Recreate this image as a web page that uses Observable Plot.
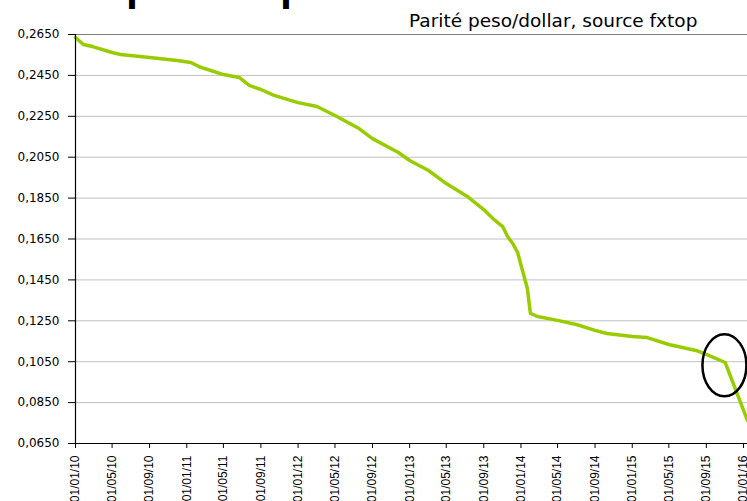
<!DOCTYPE html>
<html>
<head>
<meta charset="utf-8">
<script src="https://cdn.jsdelivr.net/npm/d3@7"></script>
<script src="https://cdn.jsdelivr.net/npm/@observablehq/plot@0.6"></script>
<style>
  html, body { margin: 0; padding: 0; background: #fff; }
  #chart { position: relative; width: 747px; height: 501px; overflow: hidden; }
</style>
</head>
<body>
<div id="chart"></div>
<script>
// Parity peso/dollar readings
const dates = ["2010-01-01","2010-01-27","2010-02-26","2010-05-01","2010-05-29","2010-09-01","2010-12-01","2011-01-14","2011-02-16","2011-03-21","2011-05-01","2011-06-22","2011-07-25","2011-09-01","2011-10-14","2012-01-01","2012-03-03","2012-05-01","2012-07-19","2012-09-01","2012-11-25","2013-01-01","2013-03-04","2013-05-01","2013-07-09","2013-09-01","2013-10-01","2013-11-02","2013-11-18","2013-12-05","2013-12-21","2014-01-06","2014-01-22","2014-02-01","2014-02-24","2014-05-01","2014-07-02","2014-09-01","2014-10-10","2015-01-01","2015-02-19","2015-05-01","2015-07-29","2015-09-01","2015-11-02","2016-01-14"];
const values = [0.2635,0.2601,0.2591,0.2562,0.2552,0.2538,0.2523,0.2513,0.2489,0.2474,0.2454,0.2440,0.2401,0.2381,0.2352,0.2317,0.2298,0.2254,0.2190,0.2141,0.2073,0.2034,0.1985,0.1921,0.1858,0.1794,0.1750,0.1711,0.1662,0.1628,0.1584,0.1496,0.1408,0.1286,0.1271,0.1252,0.1232,0.1203,0.1188,0.1173,0.1168,0.1134,0.1105,0.1086,0.1046,0.0762];

// Axis ticks
const xTickDates = ["2010-01-01","2010-05-01","2010-09-01","2011-01-01","2011-05-01","2011-09-01","2012-01-01","2012-05-01","2012-09-01","2013-01-01","2013-05-01","2013-09-01","2014-01-01","2014-05-01","2014-09-01","2015-01-01","2015-05-01","2015-09-01","2016-01-01"];
const yTicks = [0.0650,0.0850,0.1050,0.1250,0.1450,0.1650,0.1850,0.2050,0.2250,0.2450,0.2650];
const xDomain = ["2010-01-01","2016-01-14"];
const titleText = "Parité peso/dollar, source fxtop";
// circled point (annotation)
const circled = {date: "2015-11-01", value: 0.1030};

const data = dates.map((d, i) => ({date: new Date(d), value: values[i]}));

const plot = Plot.plot({
  width: 747,
  height: 501,
  marginLeft: 75,
  marginRight: 0,
  marginTop: 34,
  marginBottom: 58,
  style: {fontFamily: "DejaVu Sans", fontSize: "12px", background: "#fff", color: "#000"},
  x: {
    type: "utc",
    domain: xDomain.map(d => new Date(d)),
    ticks: xTickDates.map(d => new Date(d)),
    tickFormat: d3.utcFormat("%d/%m/%y"),
    tickRotate: -90,
    tickSize: 5,
    tickPadding: 7,
    label: null
  },
  y: {
    domain: [yTicks[0], yTicks[yTicks.length - 1]],
    ticks: yTicks,
    tickFormat: d => d.toFixed(4).replace(".", ","),
    tickSize: 7,
    tickPadding: 9,
    label: null
  },
  marks: [
    Plot.ruleY(yTicks.slice(1, -1), {stroke: "#c0c0c0", strokeWidth: 1}),
    Plot.ruleY(yTicks.slice(-1), {stroke: "#808080", strokeWidth: 1}),
    Plot.line(data, {x: "date", y: "value", stroke: "#99cc00", strokeWidth: 3.5, strokeLinejoin: "round"}),
    Plot.ruleX([new Date(xDomain[0])], {stroke: "#000", strokeWidth: 1.2}),
    Plot.ruleY(yTicks.slice(0, 1), {stroke: "#000", strokeWidth: 1.2})
  ]
});

const svg = d3.select(plot);
svg.selectAll('[aria-label^="x-axis"] text')
  .style("font-family", "'Liberation Sans', Arial, sans-serif")
  .style("font-size", "12px");

// annotation ellipse around the kink
const cx = plot.scale("x").apply(new Date(circled.date));
const cy = plot.scale("y").apply(circled.value);
svg.append("ellipse")
  .attr("cx", cx).attr("cy", cy).attr("rx", 22).attr("ry", 31)
  .attr("fill", "none").attr("stroke", "#000").attr("stroke-width", 2.5);

// title
svg.append("text")
  .attr("x", 409).attr("y", 27)
  .attr("text-anchor", "start")
  .attr("font-family", "DejaVu Sans").attr("font-size", "18.5px")
  .attr("fill", "#000")
  .text(titleText);

// cut-off heading fragments at the very top
const frag = svg.append("text")
  .attr("y", 0)
  .attr("text-anchor", "start")
  .attr("font-family", "'Liberation Sans', Arial, sans-serif")
  .attr("font-weight", "bold")
  .attr("font-size", "43px")
  .attr("fill", "#000");
frag.append("tspan").attr("x", 126).text("p");
frag.append("tspan").attr("x", 280).text("p");

document.getElementById("chart").appendChild(plot);
</script>
</body>
</html>
